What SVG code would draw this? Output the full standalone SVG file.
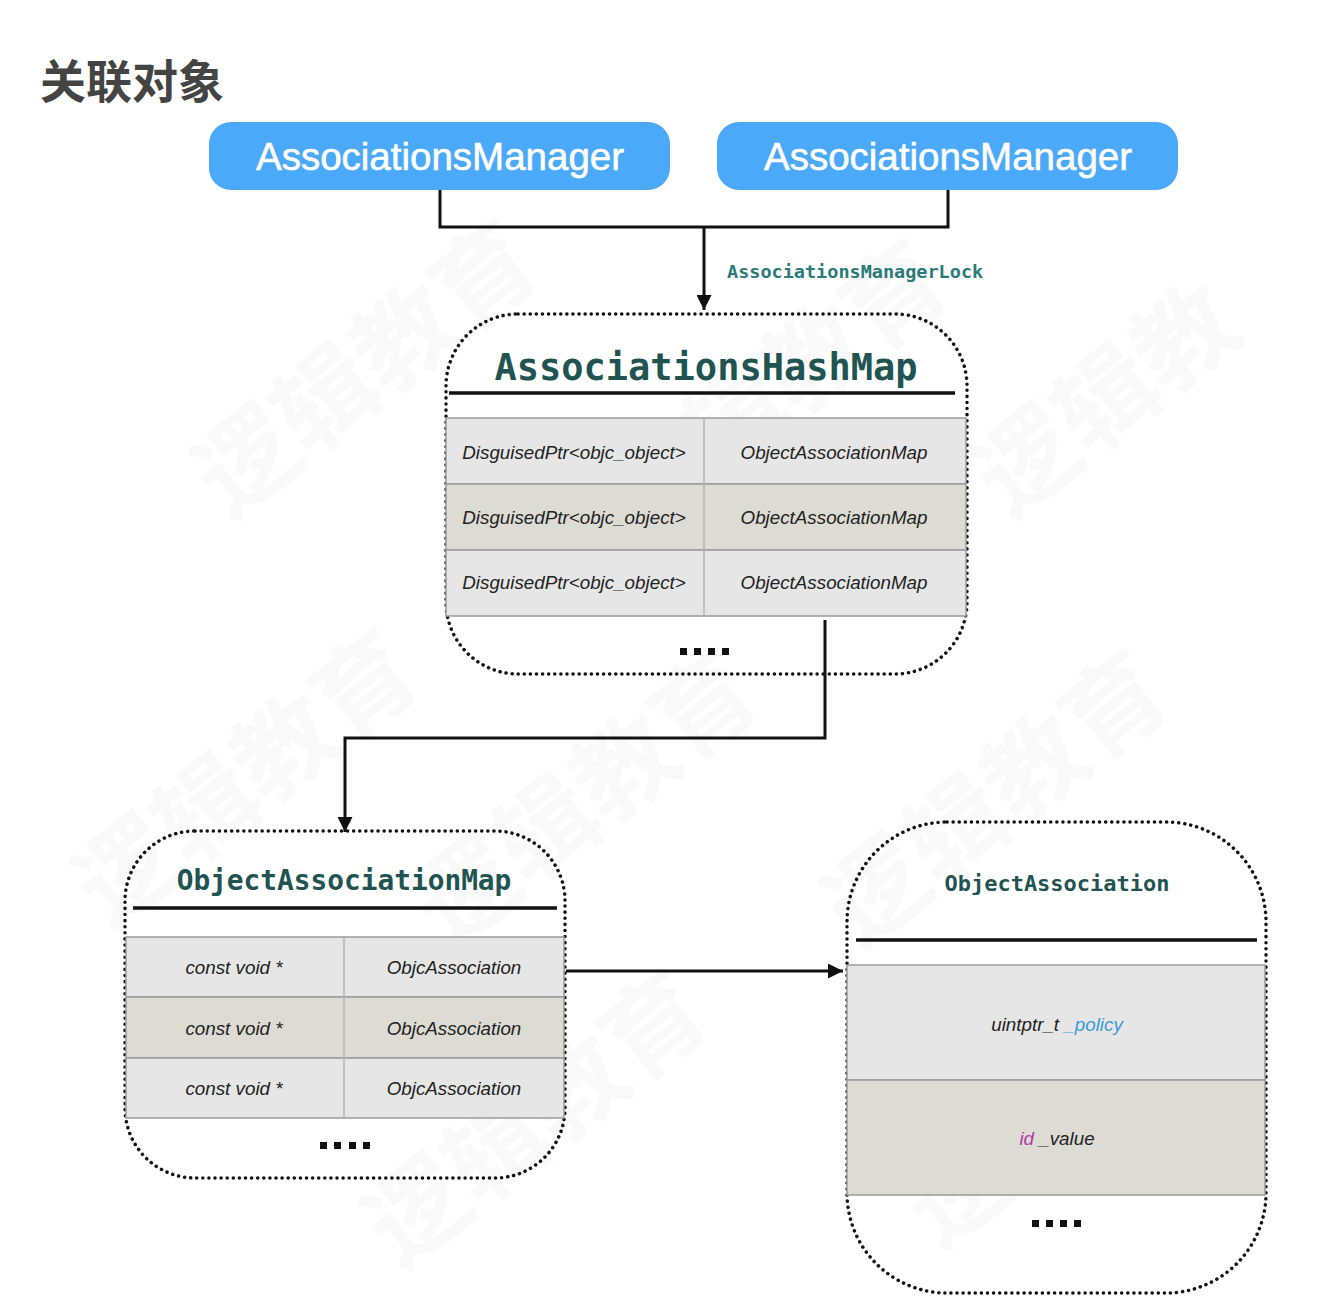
<svg xmlns="http://www.w3.org/2000/svg" width="1332" height="1310" viewBox="0 0 1332 1310">
<style>
.wm{font-family:"Noto Sans CJK SC","Noto Sans",sans-serif;font-weight:bold;font-size:100px;fill:#000;fill-opacity:0.025}
.btn{fill:#4aa9f8}
.btnt{font-family:"Liberation Sans",Arial,sans-serif;font-size:38.5px;fill:#fff;stroke:#fff;stroke-width:0.6;text-anchor:middle}
.box{fill:none;stroke:#111;stroke-width:3.5;stroke-dasharray:0.1 6;stroke-linecap:round}
.mono{font-family:"DejaVu Sans Mono","Liberation Mono",monospace;font-weight:bold;fill:#1f5452;text-anchor:middle}
.ul{stroke:#111;stroke-width:3.5}
.ra{fill:#e6e6e6;stroke:#9a9a9a;stroke-width:1.5}
.rb{fill:#dddcd4;stroke:#9a9a9a;stroke-width:1.5}
.div{stroke:#b5b5b5;stroke-width:1.5}
.cell{font-family:"Liberation Sans",Arial,sans-serif;font-style:italic;font-size:18.8px;fill:#222;text-anchor:middle}
.dot{fill:#111}
.conn{fill:none;stroke:#111;stroke-width:3}
</style>
<defs>
<marker id="ah" viewBox="0 0 10 10" refX="10" refY="5" markerWidth="5" markerHeight="5" orient="auto" markerUnits="strokeWidth">
<path d="M0,0 L10,5 L0,10 z" fill="#111"/>
</marker>
</defs>
<rect width="1332" height="1310" fill="#fff"/>
<g id="watermark">
<text class="wm" transform="translate(230,520) rotate(-38)">逻辑教育</text>
<text class="wm" transform="translate(640,540) rotate(-38)">逻辑教育</text>
<text class="wm" transform="translate(1010,520) rotate(-38)">逻辑教</text>
<text class="wm" transform="translate(110,930) rotate(-38)">逻辑教育</text>
<text class="wm" transform="translate(450,950) rotate(-38)">逻辑教育</text>
<text class="wm" transform="translate(860,950) rotate(-38)">逻辑教育</text>
<text class="wm" transform="translate(400,1270) rotate(-38)">逻辑教育</text>
<text class="wm" transform="translate(940,1250) rotate(-38)">逻辑教</text>
</g>
<g id="title">
<text x="40" y="98" font-family="Noto Sans CJK SC,Noto Sans,sans-serif" font-weight="bold" font-size="46" fill="#444">关联对象</text>
</g>
<g id="connectors">
<path class="conn" d="M440,190 V227 H948 V190"/>
<path class="conn" d="M704,227 V310" marker-end="url(#ah)"/>
<path class="conn" d="M825,620 V738 H345 V832" marker-end="url(#ah)"/>
<path class="conn" d="M566,971 H843" marker-end="url(#ah)"/>
<text x="727" y="278" font-family="DejaVu Sans Mono,Liberation Mono,monospace" font-weight="bold" font-size="18.5" fill="#2a7a78">AssociationsManagerLock</text>
</g>
<g id="manager1">
<rect class="btn" x="209" y="122" width="461" height="68" rx="22"/>
<text class="btnt" x="440" y="170">AssociationsManager</text>
</g>
<g id="manager2">
<rect class="btn" x="717" y="122" width="461" height="68" rx="22"/>
<text class="btnt" x="948" y="170">AssociationsManager</text>
</g>
<g id="hashmap">
<rect class="box" x="446" y="314" width="521" height="360" rx="72"/>
<text class="mono" x="706" y="380" font-size="37">AssociationsHashMap</text>
<line class="ul" x1="449" y1="393" x2="955" y2="393"/>
<rect class="ra" x="446" y="418" width="520" height="66"/>
<rect class="rb" x="446" y="484" width="520" height="66"/>
<rect class="ra" x="446" y="550" width="520" height="66"/>
<line class="div" x1="704" y1="419" x2="704" y2="615"/>
<text class="cell" x="574" y="459">DisguisedPtr&lt;objc_object&gt;</text>
<text class="cell" x="834" y="459">ObjectAssociationMap</text>
<text class="cell" x="574" y="524">DisguisedPtr&lt;objc_object&gt;</text>
<text class="cell" x="834" y="524">ObjectAssociationMap</text>
<text class="cell" x="574" y="589">DisguisedPtr&lt;objc_object&gt;</text>
<text class="cell" x="834" y="589">ObjectAssociationMap</text>
<rect class="dot" x="680" y="648" width="7" height="7"/>
<rect class="dot" x="694" y="648" width="7" height="7"/>
<rect class="dot" x="708" y="648" width="7" height="7"/>
<rect class="dot" x="722" y="648" width="7" height="7"/>
</g>
<g id="objectAssociationMap">
<rect class="box" x="125" y="831" width="440" height="347" rx="70"/>
<text class="mono" x="344" y="890" font-size="27.8">ObjectAssociationMap</text>
<line class="ul" x1="133" y1="908" x2="557" y2="908"/>
<rect class="ra" x="126" y="937" width="438" height="60"/>
<rect class="rb" x="126" y="997" width="438" height="61"/>
<rect class="ra" x="126" y="1058" width="438" height="60"/>
<line class="div" x1="344" y1="938" x2="344" y2="1117"/>
<text class="cell" x="234" y="974">const void *</text>
<text class="cell" x="454" y="974">ObjcAssociation</text>
<text class="cell" x="234" y="1035">const void *</text>
<text class="cell" x="454" y="1035">ObjcAssociation</text>
<text class="cell" x="234" y="1095">const void *</text>
<text class="cell" x="454" y="1095">ObjcAssociation</text>
<rect class="dot" x="320" y="1142" width="7" height="7"/>
<rect class="dot" x="334" y="1142" width="7" height="7"/>
<rect class="dot" x="349" y="1142" width="7" height="7"/>
<rect class="dot" x="363" y="1142" width="7" height="7"/>
</g>
<g id="objectAssociation">
<rect class="box" x="847" y="822" width="419" height="471" rx="100"/>
<text class="mono" x="1057" y="891" font-size="22">ObjectAssociation</text>
<line class="ul" x1="856" y1="940" x2="1257" y2="940" stroke-width="4"/>
<rect class="ra" x="847" y="965" width="418" height="115"/>
<rect class="rb" x="847" y="1080" width="418" height="115"/>
<text class="cell" x="1057" y="1031">uintptr_t <tspan fill="#3a9bd5">_policy</tspan></text>
<text class="cell" x="1057" y="1145"><tspan fill="#b03aa8">id</tspan> _value</text>
<rect class="dot" x="1032" y="1220" width="7" height="7"/>
<rect class="dot" x="1046" y="1220" width="7" height="7"/>
<rect class="dot" x="1060" y="1220" width="7" height="7"/>
<rect class="dot" x="1074" y="1220" width="7" height="7"/>
</g>
</svg>
